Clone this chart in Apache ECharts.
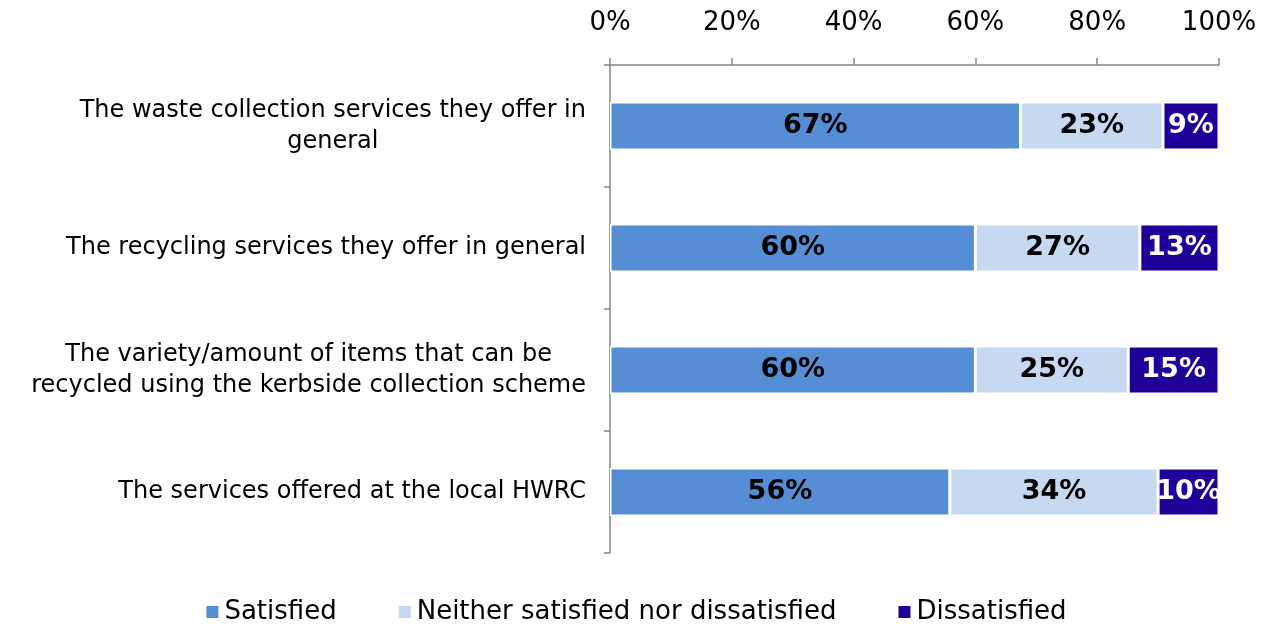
<!DOCTYPE html>
<html><head><meta charset="utf-8">
<script src="https://cdn.jsdelivr.net/npm/echarts@6/dist/echarts.min.js"></script>
<style>html,body{margin:0;padding:0;background:#fff}#c{width:1271px;height:624px}</style>
</head><body><div id="c"></div>
<script>
var categories = [
  "The waste collection services they offer in\ngeneral",
  "The recycling services they offer in general",
  "The variety/amount of items that can be\nrecycled using the kerbside collection scheme",
  "The services offered at the local HWRC"
];
var seriesNames = ["Satisfied", "Neither satisfied nor dissatisfied", "Dissatisfied"];
var satisfied = [67.4, 60.0, 60.0, 55.8];
var neither = [23.4, 27.0, 25.1, 34.2];
var dissatisfied = [9.2, 13.0, 14.9, 10.0];
var colors = ["#558ED5", "#C6D9F1", "#1F0099"];
var labelColors = ["#000", "#000", "#fff"];
var font = "Verdana, 'DejaVu Sans', sans-serif";

var chart = echarts.init(document.getElementById('c'));
var data = [satisfied, neither, dissatisfied];
chart.setOption({
  animation: false,
  color: colors,
  grid: {left: 610, right: 52, top: 65, bottom: 71, containLabel: false},
  legend: {
    top: 594, left: 'center',
    icon: 'rect', itemWidth: 14, itemHeight: 14, itemGap: 60,
    textStyle: {fontFamily: font, fontSize: 26, color: '#000'},
    data: seriesNames
  },
  xAxis: {
    type: 'value', position: 'top', min: 0, max: 100, interval: 20,
    axisLine: {show: true, lineStyle: {color: '#868686', width: 1.5}},
    axisTick: {show: true, length: 7, lineStyle: {color: '#868686', width: 1.5}},
    splitLine: {show: false},
    axisLabel: {formatter: '{value}%', fontFamily: font, fontSize: 26, color: '#000', margin: 29}
  },
  yAxis: {
    type: 'category', inverse: true, data: categories,
    axisLine: {show: true, lineStyle: {color: '#868686', width: 1.5}},
    axisTick: {show: true, length: 6, lineStyle: {color: '#868686', width: 1.5}},
    axisLabel: {
      margin: 24,
      formatter: function (v) {
        return v.split('\n').map(function (l) { return '{c|' + l + '}'; }).join('\n');
      },
      rich: {c: {align: 'center', fontFamily: font, fontSize: 24, color: '#000', lineHeight: 31}}
    }
  },
  series: data.map(function (d, i) {
    return {
      name: seriesNames[i], type: 'bar', stack: 'total', barWidth: 48,
      itemStyle: {borderColor: '#fff', borderWidth: 1.5},
      label: {
        show: true, position: 'inside', color: labelColors[i],
        fontFamily: font, fontSize: 27, fontWeight: 'bold',
        formatter: function (p) { return Math.round(p.value) + '%'; }
      },
      data: d
    };
  })
});
</script></body></html>
